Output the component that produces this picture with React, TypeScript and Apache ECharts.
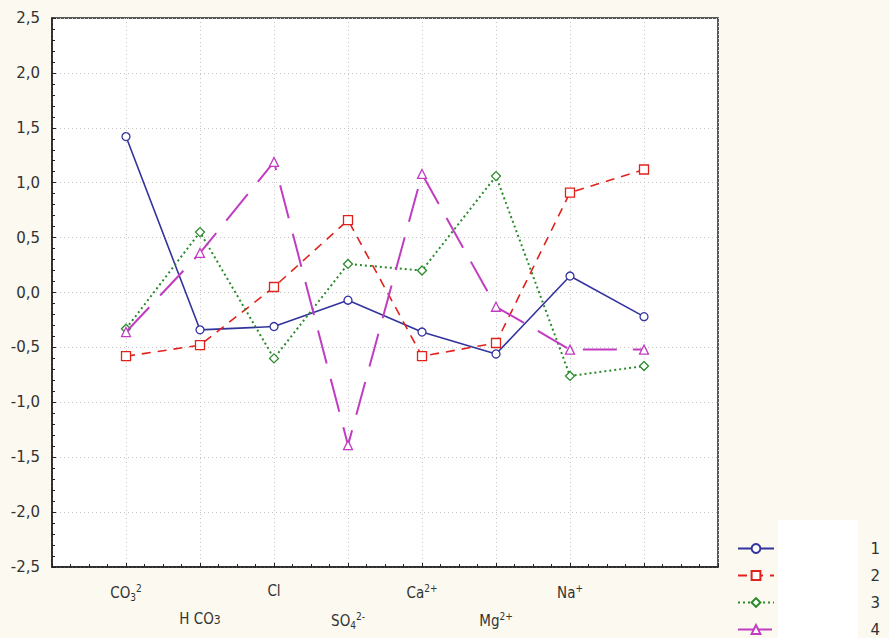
import React, { useEffect, useRef } from "react";
import * as echarts from "echarts";

const categories = ["CO3", "HCO3", "Cl", "SO4", "Ca", "Mg", "Na", ""];
const categoryLabels = [
  "CO{sub|3}{sup|2}",
  "H CO{sb|3}",
  "Cl",
  "SO{sub|4}{sup|2-}",
  "Ca{sup|2+}",
  "Mg{sup|2+}",
  "Na{sup|+}",
  "",
];
const seriesNames = ["1", "2", "3", "4"];
const s1 = [1.42, -0.34, -0.31, -0.07, -0.36, -0.56, 0.15, -0.22];
const s2 = [-0.58, -0.48, 0.05, 0.66, -0.58, -0.46, 0.91, 1.12];
const s3 = [-0.33, 0.55, -0.6, 0.26, 0.2, 1.06, -0.76, -0.67];
const s4 = [-0.36, 0.36, 1.19, -1.39, 1.08, -0.13, -0.52, -0.52];
const yTicks = [-2.5, 2.5, 0.5];

const colors = ["#33339e", "#e0221c", "#2a8a2a", "#c13cc1"];
const symbols = ["circle", "rect", "diamond", "triangle"];
const dashes: any[] = ["solid", [9, 7], [2, 3], [34, 16]];
const widths = [1.6, 1.6, 2, 2];

export default function App() {
  const ref = useRef<HTMLDivElement>(null);
  useEffect(() => {
    if (!ref.current) return;
    const chart = echarts.init(ref.current, null, { renderer: "svg" });
    const rich = {
      sub: { fontSize: 10, color: "#333", padding: [8, 0, 0, 0], fontFamily: "DejaVu Sans Condensed" },
      sb: { fontSize: 12, color: "#333", padding: [3, 0, 0, 0], fontFamily: "DejaVu Sans Condensed" },
      sup: { fontSize: 10, color: "#333", padding: [0, 0, 10, 0], fontFamily: "DejaVu Sans Condensed" },
    };
    const all = [s1, s2, s3, s4];
    const labelFor = (row: number) => (v: number) => {
      const i = Math.round(v) - 1;
      if (Math.abs(v - Math.round(v)) > 1e-6) return "";
      if (i < 0 || i >= categoryLabels.length) return "";
      if (i % 2 !== row) return "";
      return categoryLabels[i];
    };
    const commonX = {
      type: "value",
      min: 0,
      max: 9,
      interval: 1,
      position: "bottom",
    };
    chart.setOption({
      animation: false,
      backgroundColor: "#fbf9f0",
      textStyle: { fontFamily: "DejaVu Sans Condensed" },
      grid: {
        left: 52,
        top: 18,
        right: 171,
        bottom: 71,
        show: true,
        backgroundColor: "#ffffff",
        borderColor: "#222",
        borderWidth: 1.5,
      },
      graphic: [
        {
          type: "rect",
          shape: { x: 778, y: 520, width: 80, height: 118 },
          style: { fill: "#ffffff" },
          z: -1,
          silent: true,
        },
      ],
      legend: {
        orient: "vertical",
        left: 737,
        top: 541,
        padding: 0,
        itemWidth: 36,
        itemHeight: 11,
        itemGap: 12,
        data: seriesNames,
        formatter: (n: string) => "{r|" + n + "}",
        textStyle: {
          fontSize: 15,
          lineHeight: 14,
          color: "#333",
          fontFamily: "DejaVu Sans",
          rich: {
            r: {
              width: 101,
              align: "right",
              fontSize: 15,
              lineHeight: 14,
              color: "#333",
              fontFamily: "DejaVu Sans",
            },
          },
        },
      },
      xAxis: [
        {
          ...commonX,
          axisLine: { show: true, onZero: false, lineStyle: { color: "#222", width: 1.5 } },
          axisTick: { show: true, inside: true, length: 4, lineStyle: { color: "#222" } },
          minorTick: { show: true, splitNumber: 4, length: 3, lineStyle: { color: "#222" } },
          splitLine: { show: true, lineStyle: { color: "#c4c4c4", type: [1, 3] } },
          axisLabel: {
            formatter: labelFor(0),
            margin: 16,
            fontSize: 15,
            color: "#333",
            rich,
            showMinLabel: false,
            showMaxLabel: false,
          },
        },
        {
          ...commonX,
          axisLine: { show: false, onZero: false },
          axisTick: { show: false },
          splitLine: { show: false },
          axisLabel: {
            formatter: labelFor(1),
            margin: 44,
            fontSize: 15,
            color: "#333",
            rich,
            showMinLabel: false,
            showMaxLabel: false,
          },
        },
      ],
      yAxis: {
        type: "value",
        min: yTicks[0],
        max: yTicks[1],
        interval: yTicks[2],
        axisLine: { show: true, onZero: false, lineStyle: { color: "#222", width: 1.5 } },
        axisTick: { show: true, inside: true, length: 4, lineStyle: { color: "#222" } },
        minorTick: { show: true, splitNumber: 5, length: 3, lineStyle: { color: "#222" } },
        splitLine: { show: true, lineStyle: { color: "#c4c4c4", type: [1, 3] } },
        axisLabel: {
          formatter: (v: number) => v.toFixed(1).replace(".", ","),
          fontSize: 15,
          color: "#333",
          margin: 12,
          fontFamily: "DejaVu Sans",
        },
      },
      series: all.map((d, k) => ({
        name: seriesNames[k],
        type: "line",
        xAxisIndex: 0,
        data: d.map((v, i) => [i + 1, v]),
        symbol: symbols[k],
        symbolSize: k === 0 ? 8 : 9,
        showSymbol: true,
        lineStyle: { color: colors[k], width: widths[k], type: dashes[k] },
        itemStyle: { color: "#ffffff", borderColor: colors[k], borderWidth: 1.3 },
        z: 2 + k,
      })),
    });
    return () => chart.dispose();
  }, []);
  return <div ref={ref} style={{ width: 889, height: 638, position: "absolute", left: 0, top: 0 }} />;
}
